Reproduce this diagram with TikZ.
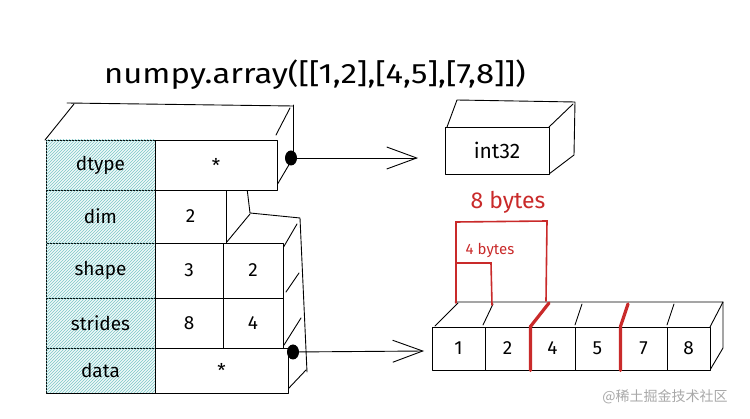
\documentclass[tikz,border=0pt]{standalone}
\usepackage{fontspec}
\setmainfont{Fira Sans}
\newfontfamily\cjk{Noto Sans CJK SC}
\usetikzlibrary{patterns,arrows.meta,shapes.geometric}
\definecolor{hatch}{HTML}{7CC8C8}
\definecolor{hatchbg}{HTML}{F0F9F9}
\definecolor{brick}{HTML}{C92A2A}
\definecolor{wm}{HTML}{A8A8A8}
\begin{document}
\begin{tikzpicture}[x=1pt,y=-1pt,
  sk/.style={line width=0.9pt, line join=round, line cap=round, draw=black},
  lab/.style={sk, minimum width=109pt, inner sep=0pt,
     preaction={fill=hatchbg}, postaction={pattern=north east lines, pattern color=hatch},
     font=\fontsize{19}{19}\selectfont},
  val/.style={sk, fill=white, inner sep=0pt, font=\fontsize{19}{19}\selectfont},
  arr/.style={sk, -{Straight Barb[length=30pt,width=22pt,line width=0.9pt]}},
  redthin/.style={draw=brick, line width=1.6pt, line cap=round},
  redthick/.style={draw=brick, line width=3.2pt, line cap=round},
  dot/.style={fill=black, ellipse, inner sep=0pt, minimum width=12pt, minimum height=15pt}
]
\useasboundingbox (0,0) rectangle (750,419);

% title
\node (title) at (315,75) {\fontsize{28}{28}\selectfont\scalebox{1.17}[1]{numpy.array([[1,2],[4,5],[7,8]])}};

% ---- left block: 3D back parts
\draw[sk] (45,140) -- (74,104);
\draw[sk] (67,103) -- (293,106);
\draw[sk] (293,105) -- (293,158);
\draw[sk] (276,135) -- (290,108);
\draw[sk] (277,185) -- (290,163);
\draw[sk] (247,188) -- (250,213) -- (300,218) -- (307,372);
\draw[sk] (226,243) -- (250,214);
\draw[sk] (283,248) -- (297,224);
\draw[sk] (286,292) -- (299,273);
\draw[sk] (284,345) -- (301,318);
\draw[sk] (288,389) -- (306,370);

% ---- label column
\node[lab, minimum height=50pt] (dtype)   at (100.5,165)   {dtype};
\node[lab, minimum height=53pt] (dim)     at (100.5,216.5) {dim};
\node[lab, minimum height=55pt] (shape)   at (100.5,270.5) {shape};
\node[lab, minimum height=50pt] (strides) at (100.5,323)   {strides};
\node[lab, minimum height=45pt] (data)    at (100.5,370.5) {data};

% ---- values
\node[val, minimum width=122pt, minimum height=50pt] (dtypeV) at (216,165) {*};
\node[val, minimum width=71pt,  minimum height=53pt] (dimV)   at (190.5,216.5) {2};
\node[val, minimum width=68pt,  minimum height=55pt] (shapeA) at (189,270.5) {3};
\node[val, minimum width=60pt,  minimum height=55pt] (shapeB) at (253,270.5) {2};
\node[val, minimum width=68pt,  minimum height=50pt] (strA)   at (189,323) {8};
\node[val, minimum width=60pt,  minimum height=50pt] (strB)   at (253,323) {4};
\node[val, minimum width=133pt, minimum height=45pt] (dataV)  at (221.5,370.5) {*};

% ---- dots and arrows
\node[dot] (dot1) at (291,158) {};
\node[dot] (dot2) at (293,352) {};
\coordinate (tip1) at (418,158);
\coordinate (tip2) at (424,351);
\draw[arr] (dot1.center) -- (tip1);
\draw[arr] (dot2.center) -- (tip2);

% ---- int32 box
\draw[sk] (447,127) -- (457,100) -- (575,102) -- (574,155) -- (549,174);
\draw[sk] (549,127) -- (573,104);
\node[val, minimum width=104pt, minimum height=47pt, font=\fontsize{21}{21}\selectfont] (int) at (497,150.5) {int32};

% ---- array
\draw[sk] (435,326) -- (458,303);
\draw[sk] (455,302) -- (723,302) -- (723,348) -- (710,370);
\draw[sk] (710,327) -- (723,302);
\draw[sk] (483,325) -- (493,304);
\draw[sk] (575,325) -- (582,304);
\draw[sk] (667,325) -- (674,304);
\node[val, minimum width=53pt, minimum height=43pt] (a1) at (458.5,348.5) {1};
\node[val, minimum width=45pt, minimum height=43pt] (a2) at (507.5,348.5) {2};
\node[val, minimum width=45pt, minimum height=43pt] (a3) at (552.5,348.5) {4};
\node[val, minimum width=45pt, minimum height=43pt] (a4) at (597.5,348.5) {5};
\node[val, minimum width=47pt, minimum height=43pt] (a5) at (643.5,348.5) {7};
\node[val, minimum width=43pt, minimum height=43pt] (a6) at (688.5,348.5) {8};

% ---- red marks
\draw[redthick] (a2.south east) -- (a2.north east) -- (549,303);
\draw[redthick] (a4.south east) -- (a4.north east) -- (628,304);
\draw[redthin] (456,303) -- (456,222) -- (547,221) -- (546,301);
\draw[redthin] (457,263) -- (491,263) -- (492,305);
\node[text=brick, font=\fontsize{23}{23}\selectfont] (b8) at (508,202) {8 bytes};
\node[text=brick, font=\fontsize{15}{15}\selectfont] (b4) at (490,250) {4 bytes};

% watermark
\node[text=wm, font=\cjk\fontsize{14}{14}\selectfont] (wmk) at (665,397) {@稀土掘金技术社区};
\end{tikzpicture}
\end{document}
